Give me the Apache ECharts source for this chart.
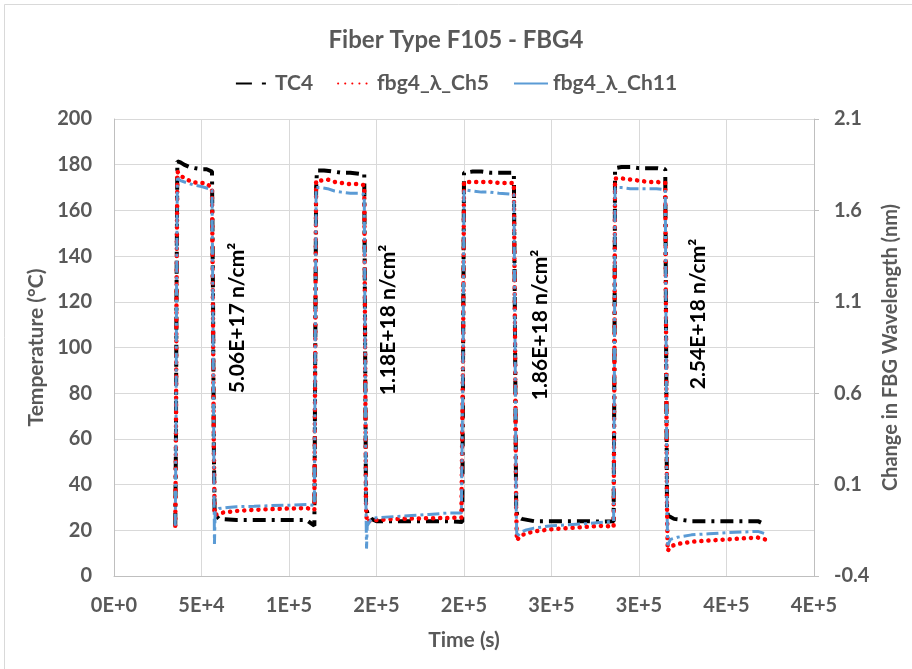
<!DOCTYPE html>
<html>
<head>
<meta charset="utf-8">
<script src="https://cdn.jsdelivr.net/npm/echarts@6/dist/echarts.min.js"></script>
<style>
html,body{margin:0;padding:0;background:#fff;}
#main{width:912px;height:669px;}
</style>
</head>
<body>
<div id="main"></div>
<script>
// ---- Data ----
var chartTitle = "Fiber Type F105 - FBG4";
var seriesNames = ["TC4", "fbg4_λ_Ch5", "fbg4_λ_Ch11"];
var xTickLabels = ["0E+0","5E+4","1E+5","2E+5","2E+5","3E+5","3E+5","4E+5","4E+5"];
var rightTickValues = [-0.4, 0.1, 0.6, 1.1, 1.6, 2.1];
var fluenceLabels = ["5.06E+17 n/cm²", "1.18E+18 n/cm²", "1.86E+18 n/cm²", "2.54E+18 n/cm²"];

// TC4 temperature (°C) vs time (s)
var tc4Time = [35000,35400,35700,36200,38000,40000,43000,46000,50000,53000,56000,56600,57000,57500,60000,70000,80000,90000,100000,110000,114500,115000,115500,116000,120000,125000,130000,135000,140000,143000,143500,144000,145000,147000,150000,160000,170000,180000,190000,199000,199500,200000,205000,210000,215000,220000,228500,229200,229800,230500,233000,240000,250000,260000,270000,280000,285500,286000,286300,290000,295000,300000,305000,310000,315000,315500,316000,316500,320000,330000,340000,350000,360000,368000,372000];
var tc4Temp = [22,60,120,181.5,181,180,179,178.5,178,178,177,120,60,27,25,24.5,24.5,24.5,24.5,24.5,22,100,170,177.5,177.5,177,176.5,176.5,176,176,100,30,27,25,24,24,24,24,24,23.6,100,176.5,177,177,176.5,176.5,176.5,100,30,26,25,24,24,24,24,23.8,24,100,178.5,179,179,178.5,178.5,178.5,178,100,30,26.5,25,24,24,24,24,24,22.5];

// Ch5 wavelength change (nm) vs time (s)
var ch5Time = [35000,35400,35700,36200,38000,41000,44000,48000,52000,56000,56600,57000,57500,60000,65000,70000,80000,90000,100000,110000,114500,115000,115500,118000,122000,126000,130000,135000,140000,143000,143500,144000,144500,147000,160000,180000,198500,199500,200000,205000,210000,215000,220000,228500,229200,229800,230200,232000,235000,240000,250000,260000,270000,280000,285500,286000,286300,290000,295000,300000,305000,310000,315000,315500,316000,316400,318000,322000,330000,340000,350000,360000,368000,372000];
var ch5Shift = [-0.125,0.35,1.1,1.813,1.788,1.775,1.756,1.75,1.75,1.725,0.975,0.35,-0.069,-0.056,-0.05,-0.044,-0.038,-0.034,-0.031,-0.028,-0.038,0.85,1.763,1.763,1.769,1.756,1.75,1.744,1.744,1.738,0.85,-0.025,-0.105,-0.096,-0.088,-0.084,-0.081,0.85,1.756,1.756,1.756,1.756,1.75,1.75,0.85,-0.025,-0.206,-0.181,-0.169,-0.156,-0.144,-0.138,-0.131,-0.125,-0.131,0.85,1.775,1.775,1.769,1.763,1.756,1.756,1.75,0.85,-0.025,-0.263,-0.238,-0.225,-0.213,-0.206,-0.2,-0.194,-0.19,-0.2];

// Ch11 wavelength change (nm) vs time (s)
var ch11Time = [35000,35400,35700,36200,38000,42000,46000,50000,56000,56600,57000,57400,57800,60000,65000,70000,80000,90000,100000,110000,114500,115000,115500,118000,122000,126000,130000,135000,140000,143000,143500,144000,144300,144700,147000,150000,160000,170000,180000,190000,198500,199500,200000,205000,210000,215000,220000,228500,229200,229800,230200,232000,235000,240000,250000,260000,270000,280000,285500,286000,286300,290000,295000,300000,305000,310000,315000,315500,316000,316400,318000,322000,330000,340000,350000,360000,368000,372000];
var ch11Shift = [-0.125,0.35,1.1,1.775,1.763,1.75,1.738,1.731,1.713,0.975,0.35,-0.225,-0.05,-0.031,-0.025,-0.021,-0.019,-0.015,-0.013,-0.009,-0.013,0.85,1.725,1.725,1.719,1.706,1.7,1.694,1.694,1.688,0.85,-0.025,-0.25,-0.125,-0.088,-0.081,-0.075,-0.069,-0.063,-0.056,-0.056,0.85,1.713,1.706,1.7,1.7,1.694,1.688,0.85,-0.025,-0.188,-0.163,-0.15,-0.138,-0.125,-0.119,-0.113,-0.106,-0.1,0.85,1.725,1.725,1.719,1.719,1.719,1.719,1.713,0.85,-0.025,-0.231,-0.2,-0.188,-0.175,-0.169,-0.163,-0.159,-0.156,-0.169];

function zip(a, b) { return a.map(function (v, i) { return [v, b[i]]; }); }

var FONT = "Lato, 'Open Sans', sans-serif";
var GRAY = "#595959";
var chart = echarts.init(document.getElementById('main'), null, {renderer: 'canvas'});

var labelPos = [[237, 318], [388, 320], [540, 325], [698, 314]];

var option = {
  backgroundColor: '#ffffff',
  animation: false,
  title: {
    text: chartTitle, left: 'center', top: 23,
    textStyle: {fontFamily: FONT, fontSize: 24, fontWeight: 'bold', color: GRAY}
  },
  legend: {
    top: 68, left: 'center', itemWidth: 34, itemHeight: 14, itemGap: 24,
    textStyle: {fontFamily: FONT, fontSize: 21, fontWeight: 'bold', color: GRAY},
    data: [
      {name: seriesNames[0], itemStyle: {opacity: 0}, lineStyle: {type: [16, 10, 4, 10]}},
      {name: seriesNames[1], itemStyle: {opacity: 0}},
      {name: seriesNames[2], itemStyle: {opacity: 0}, lineStyle: {type: 'solid'}}
    ]
  },
  graphic: [
    {type: 'rect', shape: {x: 4.5, y: 4.5, width: 930, height: 700}, style: {fill: 'none', stroke: '#D9D9D9', lineWidth: 1}, silent: true, z: -1}
  ].concat(fluenceLabels.map(function (t, i) {
    return {type: 'text', x: labelPos[i][0], y: labelPos[i][1], rotation: Math.PI / 2,
      style: {text: t, fill: '#000', font: "bold 21px " + FONT, align: 'center', verticalAlign: 'middle'}, z: 100};
  })),
  grid: {left: 114, right: 98, top: 119, bottom: 93},
  xAxis: {
    type: 'value', min: 0, max: 400000, interval: 50000,
    name: 'Time (s)', nameLocation: 'middle', nameGap: 54,
    nameTextStyle: {fontFamily: FONT, fontSize: 21, fontWeight: 'bold', color: GRAY},
    axisLine: {show: true, lineStyle: {color: '#BFBFBF', width: 1}},
    axisTick: {show: false},
    axisLabel: {fontFamily: FONT, fontSize: 20, fontWeight: 'bold', color: GRAY, margin: 20,
      formatter: function (v) { return xTickLabels[Math.round(v / 50000)]; }},
    splitLine: {show: true, lineStyle: {color: '#D9D9D9', width: 1}}
  },
  yAxis: [
    {
      type: 'value', min: 0, max: 200, interval: 20, position: 'left',
      name: 'Temperature (°C)', nameLocation: 'middle', nameGap: 65,
      nameTextStyle: {fontFamily: FONT, fontSize: 21, fontWeight: 'bold', color: GRAY},
      axisLine: {show: true, lineStyle: {color: '#BFBFBF', width: 1}},
      axisTick: {show: false},
      axisLabel: {fontFamily: FONT, fontSize: 20, fontWeight: 'bold', color: GRAY, margin: 22},
      splitLine: {show: true, lineStyle: {color: '#D9D9D9', width: 1}}
    },
    {
      type: 'value', min: -0.4, max: 2.1, position: 'right',
      name: 'Change in FBG Wavelength (nm)', nameLocation: 'middle', nameGap: 64,
      nameTextStyle: {fontFamily: FONT, fontSize: 20, fontWeight: 'bold', color: GRAY},
      axisLine: {show: true, lineStyle: {color: '#BFBFBF', width: 1}},
      axisTick: {show: true, length: 5, lineStyle: {color: '#BFBFBF'}, customValues: rightTickValues},
      axisLabel: {fontFamily: FONT, fontSize: 20, fontWeight: 'bold', color: GRAY, margin: 20,
        customValues: rightTickValues,
        formatter: function (v) { return v.toFixed(1); }},
      splitLine: {show: false}
    }
  ],
  series: [
    {
      name: seriesNames[0], type: 'line', yAxisIndex: 0, showSymbol: false, symbol: 'none',
      data: zip(tc4Time, tc4Temp),
      lineStyle: {color: '#000000', width: 4, type: [13, 6, 3, 6], cap: 'butt'},
      itemStyle: {color: '#000000'}
    },
    {
      name: seriesNames[1], type: 'line', yAxisIndex: 1, showSymbol: false, symbol: 'none',
      data: zip(ch5Time, ch5Shift),
      lineStyle: {color: '#FF0000', width: 4.5, type: [0.1, 7], cap: 'round'},
      itemStyle: {color: '#FF0000'}
    },
    {
      name: seriesNames[2], type: 'line', yAxisIndex: 1, showSymbol: false, symbol: 'none',
      data: zip(ch11Time, ch11Shift),
      lineStyle: {color: '#5B9BD5', width: 3, type: [12, 4, 3, 4], cap: 'butt'},
      itemStyle: {color: '#5B9BD5'}
    }
  ]
};
chart.setOption(option);
</script>
</body>
</html>
